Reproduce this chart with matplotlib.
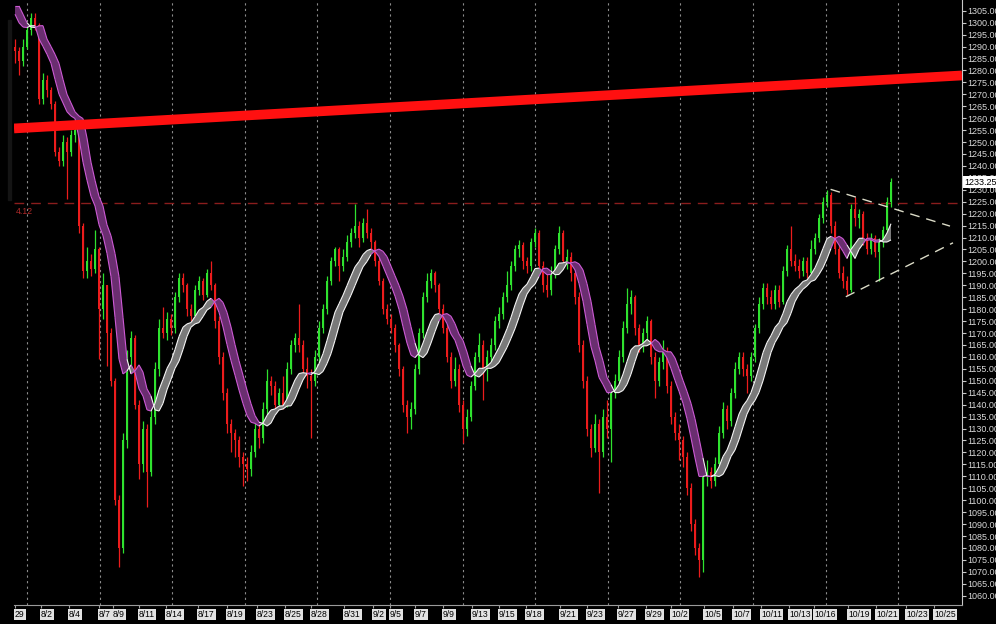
import numpy as np
import pandas as pd
import matplotlib
matplotlib.use('Agg')
import matplotlib.pyplot as plt
from matplotlib.collections import LineCollection
from matplotlib.patches import Rectangle
import matplotlib.transforms as mtransforms

# ---------------- data ----------------
first_open = 1290.0
closes = [
    1288, 1284, 1290, 1297, 1302, 1299, 1268, 1276, 1272, 1266,
    1246, 1242, 1250, 1246, 1253, 1255, 1215, 1196, 1200, 1197,
    1205, 1180, 1190, 1170, 1150, 1100, 1080, 1125, 1160, 1168,
    1140, 1115, 1130, 1112, 1135, 1155, 1172, 1170, 1176, 1172,
    1185, 1193, 1190, 1180, 1177, 1188, 1192, 1186, 1195, 1190,
    1175, 1160, 1145, 1132, 1128, 1125, 1118, 1115, 1113, 1120,
    1130, 1126, 1138, 1150, 1148, 1140, 1145, 1140, 1155, 1165,
    1168, 1165, 1155, 1152, 1150, 1160, 1172, 1180, 1192, 1200,
    1205, 1198, 1202, 1208, 1212, 1215, 1210, 1216, 1212, 1208,
    1200, 1192, 1180, 1176, 1172, 1165, 1155, 1140, 1135, 1138,
    1155, 1170, 1185, 1192, 1195, 1190, 1180, 1172, 1160, 1150,
    1155, 1140, 1130, 1135, 1148, 1160, 1165, 1155, 1160, 1165,
    1175, 1178, 1185, 1190, 1198, 1205, 1207, 1200, 1198, 1208,
    1212, 1198, 1190, 1188, 1195, 1205, 1212, 1200, 1202, 1195,
    1185, 1165, 1150, 1130, 1122, 1132, 1120, 1135, 1130, 1145,
    1150, 1160, 1172, 1182, 1185, 1172, 1165, 1170, 1175, 1160,
    1150, 1158, 1162, 1148, 1135, 1128, 1125, 1118, 1105, 1090,
    1080, 1075, 1110, 1112, 1108, 1115, 1128, 1138, 1133, 1145,
    1155, 1160, 1155, 1152, 1160, 1172, 1182, 1189, 1185, 1182,
    1188, 1183, 1196, 1205, 1200, 1198, 1196, 1200, 1195, 1205,
    1210, 1218, 1225, 1228, 1215, 1205, 1195, 1192, 1188, 1222,
    1218, 1220, 1210, 1205, 1210, 1204, 1208, 1213, 1225, 1233.25,
]
highs = [
    1293, 1290, 1293, 1299, 1304, 1304, 1300, 1279, 1278, 1273,
    1267, 1248, 1253, 1252, 1255, 1257, 1256, 1216, 1206, 1203,
    1213, 1206, 1195, 1190, 1172, 1151, 1102, 1128, 1163, 1171,
    1169, 1142, 1133, 1132, 1138, 1158, 1176, 1181, 1179, 1178,
    1187, 1195, 1195, 1191, 1182, 1190, 1194, 1193, 1197, 1200,
    1191, 1177, 1162, 1147, 1134, 1130, 1127, 1120, 1118, 1123,
    1133, 1132, 1141, 1155, 1152, 1150, 1147, 1152, 1158, 1167,
    1170, 1182, 1167, 1160, 1155, 1163, 1175, 1182, 1194, 1202,
    1206, 1206, 1205, 1211, 1214, 1224, 1217, 1218, 1222, 1214,
    1209, 1202, 1193, 1182, 1178, 1174, 1166, 1156, 1142, 1141,
    1157, 1172, 1187, 1195, 1197, 1196, 1191, 1182, 1174, 1162,
    1160, 1157, 1142, 1138, 1150, 1162, 1170, 1167, 1163, 1168,
    1177, 1181, 1187, 1196, 1200, 1207, 1209, 1208, 1202, 1210,
    1214, 1213, 1200, 1197, 1198, 1207, 1215, 1213, 1205, 1204,
    1197, 1187, 1167, 1152, 1132, 1136, 1134, 1138, 1142, 1147,
    1153, 1163, 1175, 1189, 1188, 1186, 1174, 1172, 1177, 1176,
    1162, 1160, 1167, 1164, 1150, 1137, 1132, 1127, 1120, 1107,
    1092, 1082, 1114, 1117, 1114, 1118, 1131, 1141, 1140, 1147,
    1158, 1162, 1162, 1157, 1162, 1174, 1185, 1191, 1191, 1188,
    1190, 1190, 1198, 1207, 1215, 1203, 1201, 1202, 1202, 1209,
    1212, 1220, 1227, 1230, 1229, 1217, 1207, 1198, 1194, 1224,
    1227, 1222, 1221, 1212, 1212, 1211, 1210, 1215, 1227, 1235,
]
lows = [
    1283, 1278, 1282, 1289, 1295, 1297, 1266, 1266, 1269, 1264,
    1244, 1240, 1240, 1226, 1244, 1250, 1212, 1193, 1193, 1194,
    1195, 1159, 1176, 1156, 1148, 1098, 1072, 1078, 1122, 1156,
    1138, 1109, 1112, 1097, 1110, 1132, 1152, 1168, 1167, 1169,
    1170, 1183, 1187, 1177, 1175, 1176, 1186, 1184, 1185, 1188,
    1172, 1157, 1142, 1128, 1120, 1118, 1114, 1106, 1108, 1110,
    1118, 1122, 1124, 1136, 1144, 1137, 1138, 1138, 1139, 1153,
    1162, 1162, 1152, 1147, 1126, 1148, 1158, 1170, 1178, 1190,
    1198, 1192, 1196, 1200, 1206, 1210, 1206, 1208, 1210, 1205,
    1198, 1190, 1178, 1174, 1170, 1162, 1152, 1137, 1128, 1130,
    1136, 1153, 1168, 1183, 1189, 1187, 1178, 1170, 1158, 1147,
    1148, 1137, 1124, 1127, 1133, 1146, 1158, 1142, 1150, 1157,
    1163, 1172, 1176, 1183, 1188, 1196, 1202, 1197, 1195, 1196,
    1206, 1196, 1187, 1185, 1186, 1193, 1203, 1198, 1197, 1192,
    1182, 1162, 1147, 1127, 1118, 1120, 1103, 1118, 1126, 1116,
    1143, 1148, 1158, 1170, 1178, 1169, 1162, 1162, 1167, 1157,
    1143, 1148, 1155, 1145, 1132, 1125, 1117, 1114, 1102, 1087,
    1077, 1068, 1070, 1106, 1105, 1106, 1113, 1126, 1130, 1131,
    1143, 1153, 1152, 1145, 1150, 1158, 1170, 1180, 1182, 1180,
    1180, 1181, 1182, 1194, 1198, 1196, 1193, 1194, 1193, 1194,
    1203, 1208, 1216, 1223, 1212, 1203, 1193, 1189, 1186, 1187,
    1215, 1214, 1207, 1203, 1203, 1202, 1192, 1206, 1211, 1223,
]

date_labels = ['29', '8/2', '8/4', '8/7', '8/9', '8/11', '8/14', '8/17', '8/19',
               '8/23', '8/25', '8/28', '8/31', '9/2', '9/5', '9/7', '9/9', '9/13',
               '9/15', '9/18', '9/21', '9/23', '9/27', '9/29', '10/2', '10/5',
               '10/7', '10/11', '10/13', '10/16', '10/19', '10/21', '10/23', '10/25']
date_ticks = [0, 6.5, 13.5, 21, 24.5, 31, 37.75, 45.75, 53, 60.5, 67.5, 74,
              82.25, 89.5, 93.75, 100, 107, 114.25, 121, 127.75, 136.25, 143,
              150.75, 157.75, 164, 172.25, 179.5, 186.5, 193.5, 199.75, 208.25,
              215.25, 222.75, 229.75]

ma_seed = 1307.0          # moving-average value at the left edge
ma_span = 10
ma_lag = 2                # second band edge: same average, a few bars earlier

resist_x = [-0.25, 236.75]
resist_y = [1255.7, 1277.9]
level_price = 1224.3
level_text = '4.12'
tri_upper_x = [203.9, 233.75]
tri_upper_y = [1230.2, 1214.8]
tri_lower_x = [207.7, 234.5]
tri_lower_y = [1185.2, 1207.8]
last_price = 1233.25

# ---------------- figure ----------------
W, H = 996, 624
fig = plt.figure(figsize=(W / 100, H / 100), dpi=100, facecolor='black')
ax = fig.add_axes([14 / W, 19 / H, 948 / W, 605 / H])
ax.set_facecolor('black')

n = len(closes)
x = np.arange(n)
c = np.array(closes, dtype=float)
o = np.r_[first_open, c[:-1]]
h = np.maximum(np.array(highs, float), np.maximum(o, c))
l = np.minimum(np.array(lows, float), np.minimum(o, c))
up = c >= o
col = np.where(up, '#2fe22f', '#ec1c1c')

# grid
for k in range(13):
    ax.axvline(3 + 18.15 * k, color='#8c8c8c', lw=0.8, ls=(0, (2, 3)), zorder=1)

# level line
ax.axhline(level_price, color='#8a1d1d', lw=1.0, ls=(0, (7, 5)), zorder=2)
ax.text(0.3, level_price - 1.5, level_text, color='#b02a2a', fontsize=6.3,
        family='Liberation Sans', ha='left', va='top', zorder=2)

# candles
ax.vlines(x, l, h, colors=col, lw=0.9, zorder=3)
ax.bar(x, np.maximum(np.abs(c - o), 0.6), bottom=np.minimum(o, c), width=0.68,
       color=col, edgecolor='none', zorder=3)

# moving average band
ema_all = pd.Series(np.r_[[ma_seed] * ma_lag, c]).ewm(span=ma_span, adjust=False).mean().values
ema_c = ema_all[ma_lag:]
ema_o = ema_all[:n]
rising = ema_c >= ema_o
ax.fill_between(x, ema_c, ema_o, where=rising, interpolate=True,
                color='#7a7a7a', lw=0, zorder=4)
ax.fill_between(x, ema_c, ema_o, where=~rising, interpolate=True,
                color='#6a2e70', lw=0, zorder=4)
seg_cols = np.where(rising[1:], '#f4f4f4', '#cc5ad4')
for arr in (ema_c, ema_o):
    pts = np.column_stack([x, arr])
    segs = np.stack([pts[:-1], pts[1:]], axis=1)
    ax.add_collection(LineCollection(segs, colors=seg_cols, lw=0.8, zorder=5))

# triangle
ax.plot(tri_upper_x, tri_upper_y, color='#dcdcc8', lw=1.0, ls=(0, (7, 5)), zorder=5)
ax.plot(tri_lower_x, tri_lower_y, color='#dcdcc8', lw=1.0, ls=(0, (7, 5)), zorder=5)

# resistance line
ax.plot(resist_x, resist_y, color='#ff1010', lw=7.0, solid_capstyle='butt', zorder=6)

ax.set_xlim(-0.25, 236.75)
ax.set_ylim(1056.1, 1309.5)

# axes styling
for s in ('top', 'left'):
    ax.spines[s].set_visible(False)
ax.spines['right'].set_color('#c8c8c8')
ax.spines['right'].set_linewidth(0.8)
ax.spines['bottom'].set_color('#9a9a9a')
ax.spines['bottom'].set_linewidth(0.8)

ax.yaxis.tick_right()
yt = np.arange(1060, 1310, 5)
ax.set_yticks(yt)
ax.set_yticklabels([f'{v:.2f}' for v in yt], family='Liberation Sans', fontsize=6.5)
ax.tick_params(axis='y', color='#c8c8c8', labelcolor='#d8d8d8', length=3, pad=1, width=0.8)

ax.set_xticks(date_ticks)
ax.set_xticklabels(date_labels, family='Liberation Sans', fontsize=6.2)
ax.tick_params(axis='x', color='#a0a0a0', labelcolor='black', length=2, pad=1.5, width=0.8)
for t in ax.get_xticklabels():
    t.set_horizontalalignment('left')
    t.set_bbox(dict(boxstyle='square,pad=0.12', fc='#e2e2e2', ec='none'))

# last price tag
trans = mtransforms.blended_transform_factory(ax.transAxes, ax.transData)
ax.text(1.002, last_price, f'{last_price:.2f}', transform=trans, ha='left', va='center',
        family='Liberation Sans', fontsize=6.5, color='black', zorder=10, clip_on=False,
        bbox=dict(boxstyle='square,pad=0.15', fc='white', ec='none'))

# dim scroll strip at far left
fig.add_artist(Rectangle((8 / W, (H - 200) / H), 3 / W, 180 / H,
                         transform=fig.transFigure, color='#141414'))

fig.savefig('out.png', dpi=100, facecolor='black')
